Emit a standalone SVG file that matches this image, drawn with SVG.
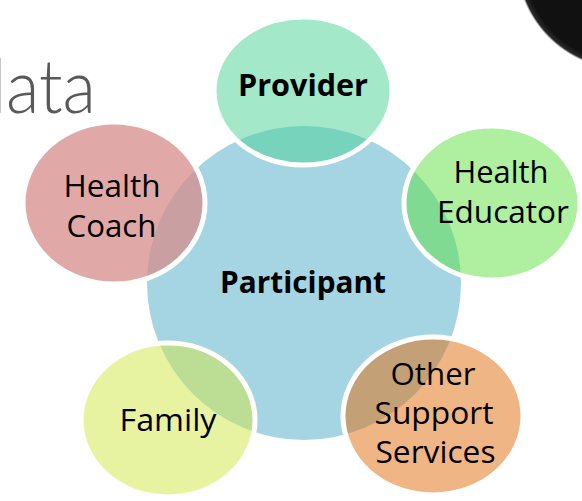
<svg xmlns="http://www.w3.org/2000/svg" width="582" height="501" viewBox="0 0 582 501">
<style>
.sat{stroke:#ffffff;stroke-width:5}
.lbl{font-family:"Open Sans","Liberation Sans",sans-serif;font-size:31px;fill:#000000;text-anchor:middle}
.b{font-weight:bold}
.title{font-family:Lato,"Open Sans","Liberation Sans",sans-serif;font-weight:300;font-size:74px;fill:#595959}
</style>
<defs>
<radialGradient id="dark" cx="0.5" cy="0.5" r="0.5">
<stop offset="0.93" stop-color="#111111"/>
<stop offset="0.98" stop-color="#2a2a2a"/>
<stop offset="1" stop-color="#8a8a8a" stop-opacity="0"/>
</radialGradient>
</defs>
<rect x="0" y="0" width="582" height="501" fill="#ffffff"/>
<circle cx="626" cy="-40" r="110" fill="url(#dark)"/>
<text class="title" x="-32" y="113" textLength="128" lengthAdjust="spacingAndGlyphs">data</text>
<g id="participant">
<circle cx="304" cy="283" r="157" fill="#A5D5E2"/>
<text class="lbl b" x="303" y="293" textLength="166" lengthAdjust="spacingAndGlyphs">Participant</text>
</g>
<g id="provider">
<ellipse class="sat" cx="303" cy="91" rx="89" ry="74" fill="#49D195" fill-opacity="0.5"/>
<text class="lbl b" x="303" y="96" textLength="130" lengthAdjust="spacingAndGlyphs">Provider</text>
</g>
<g id="health-educator">
<ellipse class="sat" cx="492" cy="203" rx="88" ry="77" fill="#5DDF41" fill-opacity="0.5"/>
<text class="lbl" x="501" y="183" textLength="95" lengthAdjust="spacingAndGlyphs">Health</text>
<text class="lbl" x="503" y="223" textLength="132" lengthAdjust="spacingAndGlyphs">Educator</text>
</g>
<g id="health-coach">
<ellipse class="sat" cx="114" cy="203" rx="91" ry="81" fill="#D58C8B" fill-opacity="0.75"/>
<text class="lbl" x="112" y="197" textLength="97" lengthAdjust="spacingAndGlyphs">Health</text>
<text class="lbl" x="111.5" y="237" textLength="90" lengthAdjust="spacingAndGlyphs">Coach</text>
</g>
<g id="family">
<ellipse class="sat" cx="168" cy="420" rx="87" ry="77" fill="#D1E745" fill-opacity="0.5"/>
<text class="lbl" x="168" y="431" textLength="97" lengthAdjust="spacingAndGlyphs">Family</text>
</g>
<g id="other-support-services">
<ellipse class="sat" cx="433" cy="416" rx="90" ry="79" fill="#E16B09" fill-opacity="0.5"/>
<text class="lbl" x="433" y="385" textLength="85" lengthAdjust="spacingAndGlyphs">Other</text>
<text class="lbl" x="434" y="424" textLength="119" lengthAdjust="spacingAndGlyphs">Support</text>
<text class="lbl" x="435.5" y="463" textLength="120" lengthAdjust="spacingAndGlyphs">Services</text>
</g>
<g id="connectors"></g>
</svg>
